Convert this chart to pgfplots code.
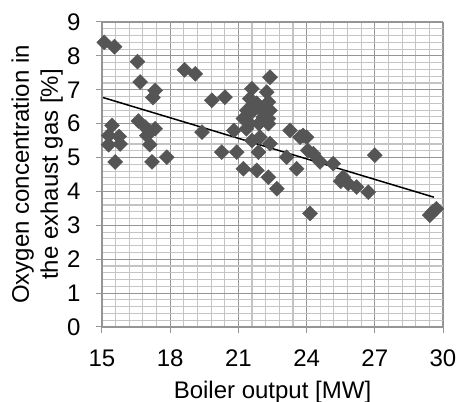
\documentclass[border=0pt]{standalone}
\usepackage{fontspec}
\setmainfont{Liberation Sans}
\usepackage{pgfplots}
\pgfplotsset{compat=1.18}
\definecolor{markgray}{HTML}{555555}
\definecolor{majgrid}{HTML}{959595}
\definecolor{mingrid}{HTML}{C4C4C4}
\begin{document}
\begin{tikzpicture}
\begin{axis}[
    name=ax,
    scale only axis,
    width=341pt, height=305pt,
    xmin=15, xmax=30, ymin=0, ymax=9,
    xtick={15,18,...,30}, ytick={0,1,...,9},
    minor x tick num=4, minor y tick num=4,
    grid=both,
    major grid style={majgrid, line width=1.1pt},
    minor grid style={mingrid, line width=1.1pt},
    axis lines=left,
    axis line style={-, majgrid, line width=1.1pt},
    tick align=outside,
    major tick length=6pt, minor tick length=0pt,
    tick style={majgrid, line width=1pt},
    font=\fontsize{24}{29}\selectfont,
    /pgf/number format/assume math mode=true,
    xticklabel style={yshift=-13pt},
    yticklabel style={xshift=-12pt},
    xlabel={Boiler output [MW]},
    ylabel={Oxygen concentration in\\the exhaust gas [\%]},
    xlabel style={at={(axis description cs:0.5,-0.213)}, anchor=center},
    ylabel style={at={(axis description cs:-0.19,0.5)}, anchor=center, align=center},
    clip=false,
]
\addplot[only marks, mark=square*, mark size=5.3pt,
    mark options={rotate=45, fill=markgray, draw=markgray}] coordinates {
    (15.1,8.4) (15.55,8.27) (16.56,7.83) (16.68,7.23) (17.34,6.98) (17.24,6.77)
    (18.63,7.59) (19.1,7.47) (19.83,6.69) (20.41,6.78) (19.4,5.75)
    (15.44,5.95) (15.29,5.65) (15.75,5.62) (15.29,5.38) (15.8,5.4) (15.58,4.87)
    (16.6,6.08) (16.9,5.9) (17.05,5.8) (17.34,5.85) (16.97,5.65) (17.1,5.38)
    (17.2,4.87) (17.85,5.01)
    (22.39,7.37) (21.59,7.03) (22.25,6.93) (21.5,6.74) (22.32,6.64) (21.37,6.39)
    (22.39,6.39) (21.59,6.34) (21.22,6.15) (22.1,6.19) (22.32,6.15) (21.5,6.0)
    (22.32,6.0) (20.8,5.8) (23.27,5.8) (23.85,5.65) (23.71,5.6) (24.0,5.6)
    (21.8,6.6) (21.9,6.0) (21.35,5.85) (21.95,5.6) (21.6,5.5) (22.0,6.4)
    (20.27,5.16) (20.93,5.16) (21.88,5.16) (22.39,5.41) (23.12,5.01) (24.05,5.21)
    (21.22,4.67) (21.81,4.62) (22.32,4.42) (22.69,4.08) (23.56,4.67) (24.15,3.35)
    (24.3,5.11) (24.59,4.87) (25.17,4.82) (25.61,4.42) (25.83,4.23) (26.2,4.13)
    (25.5,4.3) (26.71,3.98) (27.0,5.07) (29.42,3.3) (29.71,3.49) (29.55,3.4)
};
% linear trend line
\addplot[black, line width=1.5pt] coordinates {(15.05,6.77) (29.6,3.83)};
\end{axis}
\pgfresetboundingbox
\path[use as bounding box] ([shift={(-102pt,-75pt)}]ax.south west) rectangle ([shift={(15pt,22pt)}]ax.north east);
\end{tikzpicture}
\end{document}
